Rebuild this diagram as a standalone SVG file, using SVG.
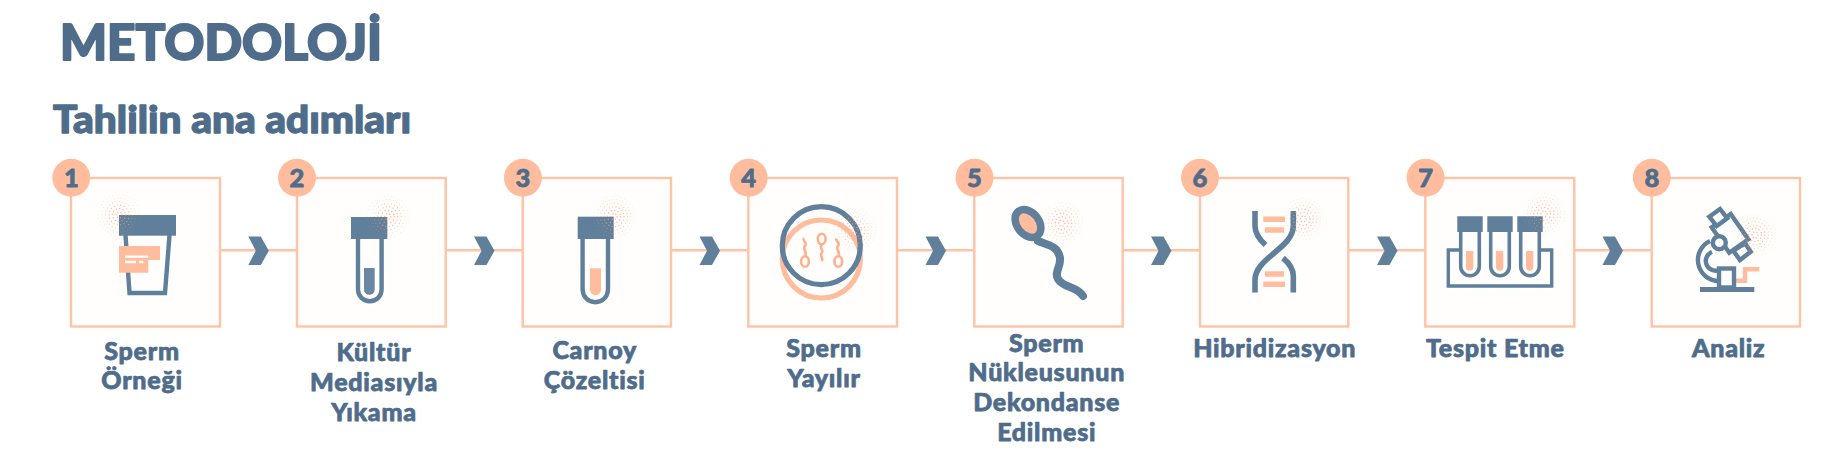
<svg xmlns="http://www.w3.org/2000/svg" width="1837" height="466" viewBox="0 0 1837 466">
<style>
text{font-family:"Lato","Noto Sans","Liberation Sans",sans-serif;font-weight:900;fill:#4f6d8b;stroke:#4f6d8b;stroke-linejoin:round}
.h1{font-size:49px;stroke-width:2px}
.h2{font-size:37px;stroke-width:1.3px}
.lb{font-size:25px;text-anchor:middle;letter-spacing:.75px;stroke-width:.75px}
.num{font-size:25.5px;text-anchor:middle;stroke-width:.8px}
.box{fill:#fffefd;stroke:#ffc3a6;stroke-width:2.4}
.badge{fill:#ffbd9e}
.conn{stroke:#ffc3a6;stroke-width:2.4;fill:none}
.chev{fill:#5f7f9b}
.d{fill:#5f7f9b}
.o{fill:#ffbd9e}
.ds{fill:none;stroke:#5f7f9b;stroke-width:4.4}
.os{fill:none;stroke:#ffbd9e;stroke-width:4.4}
.hd{fill:none;stroke:#ffa27a;stroke-linecap:round}
</style>
<defs>
<path id="chevron" class="chev" d="M0 0H12.5L20.5 14.2L12.5 28.4H0L7.5 14.2Z"/>
<g id="halo">
<circle class="hd" r="3" stroke-width="1.5" stroke-dasharray="0 3.14" opacity=".75"/>
<circle class="hd" r="6.5" stroke-width="1.5" stroke-dasharray="0 3.4" opacity=".75"/>
<circle class="hd" r="10" stroke-width="1.4" stroke-dasharray="0 3.49" opacity=".7"/>
<circle class="hd" r="13.5" stroke-width="1.2" stroke-dasharray="0 3.53" opacity=".6"/>
<circle class="hd" r="17" stroke-width="1" stroke-dasharray="0 3.56" opacity=".45"/>
<circle class="hd" r="20.5" stroke-width=".8" stroke-dasharray="0 3.58" opacity=".3"/>
</g>
</defs>
<text class="h1" x="60" y="60" textLength="322" lengthAdjust="spacingAndGlyphs">METODOLOJİ</text>
<text class="h2" x="53" y="133" textLength="358" lengthAdjust="spacingAndGlyphs">Tahlilin ana adımları</text>
<g id="connectors">
<path class="conn" d="M220 250.3H297M445.7 250.3H522.7M671 250.3H748.3M897 250.3H974.3M1122.7 250.3H1200M1348.3 250.3H1425.3M1574.3 250.3H1651.7"/>
<use href="#chevron" x="248.3" y="236.6"/>
<use href="#chevron" x="474" y="236.6"/>
<use href="#chevron" x="699.5" y="236.6"/>
<use href="#chevron" x="925.5" y="236.6"/>
<use href="#chevron" x="1151" y="236.6"/>
<use href="#chevron" x="1377" y="236.6"/>
<use href="#chevron" x="1602.5" y="236.6"/>
</g>
<g id="node1">
<rect class="box" x="71" y="178" width="149" height="148.5"/>
<circle class="badge" cx="71.3" cy="177.7" r="19"/>
<text class="num" x="71.3" y="186.5">1</text>
<path class="ds" d="M125.5 235L129.5 293H165L169.5 235"/>
<rect class="d" x="119" y="215" width="57" height="20.7"/>
<path class="o" d="M119 246H160V260H148.3V272.7H119Z"/>
<path d="M125 256.7H148.3M125 262H136M139.3 262H143.3" stroke="#fff" stroke-width="2.3" fill="none"/>
<use href="#halo" x="119" y="215"/>
<text class="lb" x="142" y="360">Sperm</text>
<text class="lb" x="142" y="389">Örneği</text>
</g>
<g id="node2">
<rect class="box" x="297" y="178" width="148.7" height="148.5"/>
<circle class="badge" cx="297" cy="177.7" r="19"/>
<text class="num" x="297" y="186.5">2</text>
<path class="ds" d="M358 238V289.5A11.8 11.8 0 0 0 381.6 289.5V238"/>
<path class="d" style="fill:#6b87a3" d="M364 268H374.7V289.5A5.3 5.3 0 0 1 364 289.5Z"/>
<rect class="d" x="351" y="217" width="36.3" height="22"/>
<use href="#halo" x="387.7" y="216.7"/>
<text class="lb" x="374" y="361">Kültür</text>
<text class="lb" x="374" y="390.7">Mediasıyla</text>
<text class="lb" x="374" y="421">Yıkama</text>
</g>
<g id="node3">
<rect class="box" x="522.7" y="178" width="148.3" height="148.5"/>
<circle class="badge" cx="522.9" cy="177.7" r="19"/>
<text class="num" x="522.9" y="186.5">3</text>
<path class="ds" d="M582.6 238V289.5A12.7 12.7 0 0 0 608 289.5V238"/>
<path class="o" d="M590 268.3H601V289.7A5.5 5.5 0 0 1 590 289.7Z"/>
<rect class="d" x="577.7" y="216.7" width="36" height="22.3"/>
<use href="#halo" x="614" y="216.7"/>
<text class="lb" x="594.7" y="359.3">Carnoy</text>
<text class="lb" x="594.7" y="388.7">Çözeltisi</text>
</g>
<g id="node4">
<rect class="box" x="748.3" y="178" width="148.7" height="148.5"/>
<circle class="badge" cx="748.7" cy="177.7" r="19"/>
<text class="num" x="748.7" y="186.5">4</text>
<circle cx="821.3" cy="259" r="39" fill="none" stroke="#ffbd9e" stroke-width="5.2"/>
<circle cx="821.3" cy="245.7" r="39" fill="none" stroke="#5f7f9b" stroke-width="5.2"/>
<g fill="none" stroke="#ffb08c" stroke-width="2.6">
<ellipse cx="805" cy="261.5" rx="3.9" ry="5.3"/>
<path d="M805 256C808 252 802 249 805 246C808 243 802 241 804 238"/>
<ellipse cx="821.7" cy="239" rx="3.9" ry="5.3"/>
<path d="M821.7 244.5C819 248 824 250 821.7 253C819 256 824 258 821.7 261"/>
<ellipse cx="838.3" cy="261.5" rx="3.9" ry="5.3"/>
<path d="M838.3 256C841 252 835 249 838 246C841 243 835 241 836.5 238.5"/>
</g>
<use href="#halo" x="855" y="230"/>
<text class="lb" x="824" y="356.7">Sperm</text>
<text class="lb" x="824" y="386.7">Yayılır</text>
</g>
<g id="node5">
<rect class="box" x="974.3" y="178" width="148.4" height="148.5"/>
<circle class="badge" cx="974.5" cy="177.7" r="19"/>
<text class="num" x="974.5" y="186.5">5</text>
<path d="M1038 241C1048 245 1058 246 1060 258C1061 267 1054 272 1058 279C1063 288 1077 286 1083 296" fill="none" stroke="#5f7f9b" stroke-width="8" stroke-linecap="round"/>
<ellipse cx="1028" cy="223.5" rx="15.5" ry="11" transform="rotate(52 1028 223.5)" fill="#ffbd9e" stroke="#5f7f9b" stroke-width="7.5"/>
<use href="#halo" x="1061.7" y="223.3"/>
<text class="lb" x="1046.7" y="351.7">Sperm</text>
<text class="lb" x="1046.7" y="381.3">Nükleusunun</text>
<text class="lb" x="1046.7" y="411.3">Dekondanse</text>
<text class="lb" x="1046.7" y="441">Edilmesi</text>
</g>
<g id="node6">
<rect class="box" x="1200" y="178" width="148.3" height="148.5"/>
<circle class="badge" cx="1200" cy="177.7" r="19"/>
<text class="num" x="1200" y="186.5">6</text>
<path d="M1263.3 219.3H1285M1265 230H1284M1265 274H1284M1263.3 284.3H1285" stroke="#ffbd9e" stroke-width="5.4" fill="none"/>
<g fill="none" stroke="#5f7f9b" stroke-width="5.6">
<path d="M1293.3 211V226C1293.3 248 1255 258 1255 280V292.5"/>
<path d="M1255 211V226C1255 233 1260 240 1265.5 245"/>
<path d="M1283 258C1289 263 1293.3 269 1293.3 276V292.5"/>
</g>
<use href="#halo" x="1303.3" y="219"/>
<text class="lb" x="1274.7" y="356.7">Hibridizasyon</text>
</g>
<g id="node7">
<rect class="box" x="1425.3" y="178" width="149" height="148.5"/>
<circle class="badge" cx="1425.6" cy="177.7" r="19"/>
<text class="num" x="1425.6" y="186.5">7</text>
<path class="ds" style="stroke-width:3.4" d="M1459 250H1448.3V286H1551.7V250H1540"/>
<path class="ds" style="stroke-width:3.6" d="M1460.7 231V266.5A9.3 9.3 0 0 0 1479.3 266.5V231"/>
<path class="ds" style="stroke-width:3.6" d="M1490.7 231V266.5A9.3 9.3 0 0 0 1509.3 266.5V231"/>
<path class="ds" style="stroke-width:3.6" d="M1520.7 231V266.5A9.3 9.3 0 0 0 1539.3 266.5V231"/>
<path class="o" d="M1466 251H1473.3V267A3.65 3.65 0 0 1 1466 267ZM1496 251H1503.3V267A3.65 3.65 0 0 1 1496 267ZM1526 251H1533.3V267A3.65 3.65 0 0 1 1526 267Z"/>
<path class="d" d="M1457.3 216.3H1482.7V232H1457.3ZM1487.3 216.3H1512.7V232H1487.3ZM1517.3 216.3H1542.7V232H1517.3Z"/>
<use href="#halo" x="1544" y="214"/>
<text class="lb" x="1495.3" y="357.3">Tespit Etme</text>
</g>
<g id="node8">
<rect class="box" x="1651.7" y="178" width="148.3" height="148.5"/>
<circle class="badge" cx="1651.8" cy="177.7" r="19"/>
<text class="num" x="1651.8" y="186.5">8</text>
<path class="os" d="M1735 280.7H1745V269.3H1759.3"/>
<g fill="none" stroke="#5f7f9b" stroke-width="4.4">
<path d="M1710 241A21 21 0 0 0 1719 281"/>
<path d="M1712 252A9.5 9.5 0 0 0 1719 270"/>
<rect x="1719" y="268.5" width="15" height="19"/>
<path d="M1700 289.5H1754.3" stroke-width="5"/>
<path fill="#fff" d="M1711.7 227.3L1730.7 214L1748.3 239.3L1729.3 252.7Z"/>
<path fill="#fff" d="M1709.3 216.7L1720 209L1727.3 218.3L1716.7 226Z"/>
<path fill="#fff" d="M1733.3 250.7L1745 243.3L1750.7 251.7L1740 260Z"/>
<circle cx="1719.3" cy="242.7" r="6.5" fill="#fff"/>
</g>
<use href="#halo" x="1755" y="235"/>
<text class="lb" x="1728.7" y="357.3">Analiz</text>
</g>
</svg>
